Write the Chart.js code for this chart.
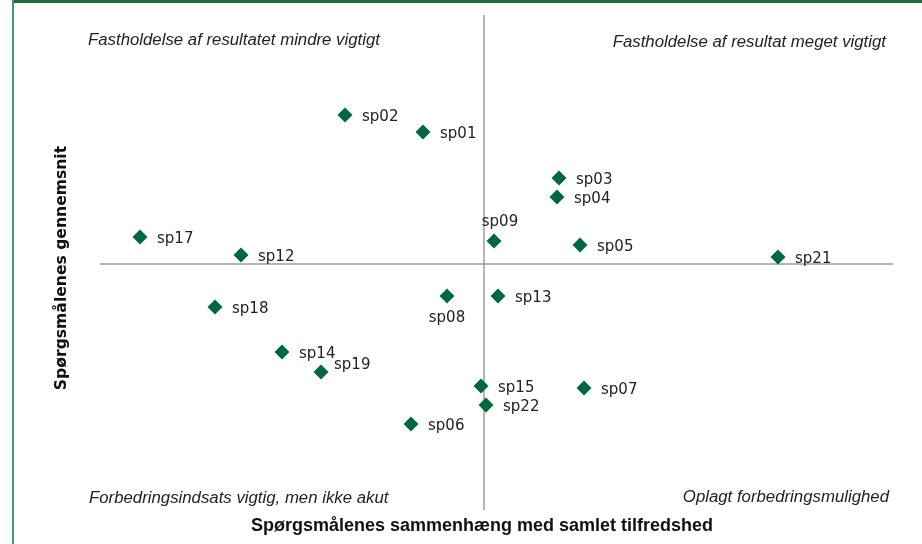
<!DOCTYPE html>
<html>
<head>
<meta charset="utf-8">
<script src="https://cdn.jsdelivr.net/npm/chart.js@4.4.1/dist/chart.umd.min.js"></script>
<style>
  html, body { margin: 0; padding: 0; background: #fff; }
  #wrap { position: relative; width: 922px; height: 544px; }
  #topline { position: absolute; left: 12px; top: 0; width: 910px; height: 3px; background: #1b6b3c; }
  #leftline { position: absolute; left: 12px; top: 0; width: 2px; height: 544px; background: #4a9670; }
</style>
</head>
<body>
<div id="wrap">
  <canvas id="matrix" width="922" height="544"></canvas>
  <div id="topline"></div>
  <div id="leftline"></div>
</div>
<script>
// Questions plotted: correlation with overall satisfaction (x) vs. average score (y)
const questions = ['sp01', 'sp02', 'sp03', 'sp04', 'sp05', 'sp06', 'sp07', 'sp08', 'sp09',
                   'sp12', 'sp13', 'sp14', 'sp15', 'sp17', 'sp18', 'sp19', 'sp21', 'sp22'];
const correlation = [-0.61, -1.39, 0.75, 0.73, 0.96, -0.73, 1.00, -0.37, 0.10,
                     -2.43, 0.14, -2.02, -0.03, -3.44, -2.69, -1.63, 2.94, 0.02];
const average = [1.32, 1.49, 0.86, 0.67, 0.19, -1.60, -1.24, -0.32, 0.23,
                 0.09, -0.32, -0.88, -1.22, 0.27, -0.43, -1.08, 0.07, -1.41];

const quadrantLabels = [
  'Fastholdelse af resultatet mindre vigtigt',
  'Fastholdelse af resultat meget vigtigt',
  'Forbedringsindsats vigtig, men ikke akut',
  'Oplagt forbedringsmulighed'
];
const xTitle = 'Spørgsmålenes sammenhæng med samlet tilfredshed';
const yTitle = 'Spørgsmålenes gennemsnit';

const green = '#00693c';

// labels sit to the right of the marker, except a few
const labelPlacement = { sp09: 'above', sp08: 'below', sp19: 'upright' };

const quadrantLines = {
  id: 'quadrantLines',
  beforeDatasetsDraw(chart) {
    const { ctx, chartArea: a, scales: { x, y } } = chart;
    const x0 = x.getPixelForValue(0);
    const y0 = y.getPixelForValue(0);
    ctx.save();
    ctx.strokeStyle = '#9c9c9c';
    ctx.lineWidth = 1.5;
    ctx.beginPath();
    ctx.moveTo(x0, a.top);
    ctx.lineTo(x0, a.bottom);
    ctx.moveTo(a.left, y0);
    ctx.lineTo(a.right, y0);
    ctx.stroke();

    ctx.fillStyle = '#222';
    ctx.font = 'italic 16.8px "Liberation Sans", Arial, sans-serif';
    ctx.textBaseline = 'middle';
    ctx.textAlign = 'left';
    ctx.fillText(quadrantLabels[0], a.left - 12, a.top + 25);
    ctx.fillText(quadrantLabels[2], a.left - 11, a.bottom - 12);
    ctx.textAlign = 'right';
    ctx.fillText(quadrantLabels[1], a.right - 7, a.top + 27);
    ctx.fillText(quadrantLabels[3], a.right - 4, a.bottom - 13);

    // axis titles
    ctx.fillStyle = '#111';
    ctx.textAlign = 'center';
    ctx.font = 'bold 18px "Liberation Sans", Arial, sans-serif';
    ctx.fillText(xTitle, x0 - 2, a.bottom + 16);
    ctx.translate(62, y0 + 4);
    ctx.rotate(-Math.PI / 2);
    ctx.font = 'bold 15.6px "DejaVu Sans", Verdana, sans-serif';
    ctx.fillText(yTitle, 0, 0);
    ctx.restore();
  }
};

const pointLabels = {
  id: 'pointLabels',
  afterDatasetsDraw(chart) {
    const { ctx } = chart;
    const meta = chart.getDatasetMeta(0);
    ctx.save();
    ctx.fillStyle = '#222';
    ctx.font = '15px "DejaVu Sans", Verdana, sans-serif';
    ctx.textBaseline = 'middle';
    meta.data.forEach((pt, i) => {
      const name = questions[i];
      const where = labelPlacement[name];
      let tx = pt.x + 17, ty = pt.y + 2;
      ctx.textAlign = 'left';
      if (where === 'above') { ctx.textAlign = 'center'; tx = pt.x + 6; ty = pt.y - 19; }
      else if (where === 'below') { ctx.textAlign = 'center'; tx = pt.x; ty = pt.y + 22; }
      else if (where === 'upright') { tx = pt.x + 13; ty = pt.y - 7; }
      ctx.fillText(name, tx, ty);
    });
    ctx.restore();
  }
};

new Chart(document.getElementById('matrix'), {
  type: 'scatter',
  data: {
    datasets: [{
      data: questions.map((q, i) => ({ x: correlation[i], y: average[i] })),
      pointStyle: 'rectRot',
      pointRadius: 7.5,
      pointHoverRadius: 7.5,
      backgroundColor: green,
      borderColor: green,
      borderWidth: 0
    }]
  },
  options: {
    responsive: false,
    animation: false,
    layout: { padding: { top: 15, right: 29, left: 100, bottom: 34 } },
    plugins: { legend: { display: false }, tooltip: { enabled: false } },
    scales: {
      x: {
        display: false,
        min: -3.84, max: 4.09
      },
      y: {
        display: false,
        min: -2.46, max: 2.49
      }
    }
  },
  plugins: [quadrantLines, pointLabels]
});
</script>
</body>
</html>
